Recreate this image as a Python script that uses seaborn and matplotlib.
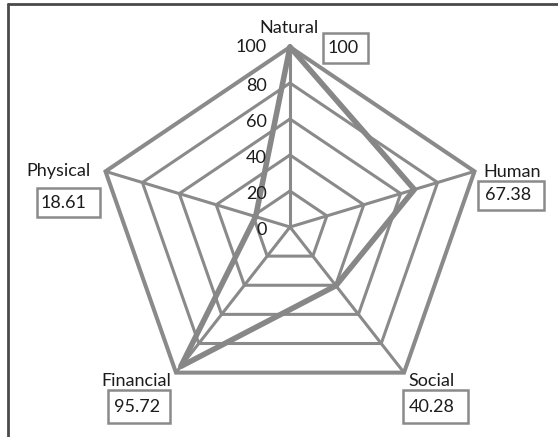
import numpy as np
import pandas as pd
import matplotlib
matplotlib.use("Agg")
import matplotlib.pyplot as plt
from matplotlib.patches import Rectangle
from matplotlib.lines import Line2D
import seaborn as sns

# Livelihood capital scores
categories = ["Natural", "Human", "Social", "Financial", "Physical"]
values = [100, 67.38, 40.28, 95.72, 18.61]
value_labels = ["100", "67.38", "40.28", "95.72", "18.61"]
ring_levels = [0, 20, 40, 60, 80, 100]

sns.set_theme(style="white")
plt.rcParams["font.family"] = ["Lato", "DejaVu Sans"]

W, H, DPI = 558, 437, 100
fig = plt.figure(figsize=(W / DPI, H / DPI), dpi=DPI)
ax = fig.add_axes([0, 0, 1, 1])

# pixel frame: centre of the web and pixels per 100 units in x and y
CX, CY, SX, SY = 290.0, 227.0, 194.0, 180.0
FS = 13
TXT = "#1c1c1c"


def px(x, y):
    return (x - CX) / SX * 100, (CY - y) / SY * 100


angles = np.deg2rad(90 - 72 * np.arange(len(categories)))
ux, uy = np.cos(angles), np.sin(angles)
grey = "#8a8a8a"

# web rings and spokes
for lvl in ring_levels[1:]:
    rx = np.append(ux * lvl, ux[0] * lvl)
    ry = np.append(uy * lvl, uy[0] * lvl)
    ax.plot(rx, ry, color=grey, lw=2.9 if lvl == 100 else 2.2,
            solid_joinstyle="miter", zorder=1)
for i in range(len(categories)):
    ax.plot([0, ux[i] * 100], [0, uy[i] * 100], color=grey, lw=2.2, zorder=1)

# data polygon
vals = np.array(values)
df = pd.DataFrame({
    "x": np.append(ux * vals, ux[0] * vals[0]),
    "y": np.append(uy * vals, uy[0] * vals[0]),
})
sns.lineplot(data=df, x="x", y="y", sort=False, estimator=None, ax=ax,
             color="#878787", lw=4.0, zorder=3)
ax.set_axis_off()
ax.set_xlim(-CX / SX * 100, (W - CX) / SX * 100)
ax.set_ylim(-(H - CY) / SY * 100, CY / SY * 100)

# radial tick labels
for lvl in ring_levels:
    tx, ty = px(267, CY - SY * lvl / 100 + (3 if lvl < 100 else 0))
    ax.text(tx, ty, str(lvl), ha="right", va="center", fontsize=FS,
            color=TXT, zorder=4)

# category names and boxed values
name_pos = [(289, 28), (512, 172), (432, 381), (136, 381), (59, 171)]
box_rects = [(323, 33, 368, 63), (478, 181, 544, 210), (403, 390, 468, 423),
             (108, 390, 170, 423), (37, 188, 100, 217)]
text_left = [328, 485, 409, 114, 41]
for name, (nx, ny), (x0, y0, x1, y1), tl, lab in zip(
        categories, name_pos, box_rects, text_left, value_labels):
    ax.text(*px(nx, ny), name, ha="center", va="center", fontsize=FS,
            color=TXT, zorder=5)
    bx0, by1 = px(x0, y0)
    bx1, by0 = px(x1, y1)
    ax.add_patch(Rectangle((bx0, by0), bx1 - bx0, by1 - by0, fc="white",
                           ec=grey, lw=1.8, zorder=4))
    ax.text(*px(tl, (y0 + y1) / 2), lab, ha="left", va="center",
            fontsize=FS, color=TXT, zorder=5)

# outer frame (top and left edges)
fig.add_artist(Line2D([8 / W, 1], [1 - 4 / H, 1 - 4 / H], color="#4a4a4a",
                      lw=2.0, transform=fig.transFigure))
fig.add_artist(Line2D([8 / W, 8 / W], [0, 1 - 4 / H], color="#4a4a4a",
                      lw=2.0, transform=fig.transFigure))

fig.savefig("out.png", dpi=DPI, facecolor="white")
